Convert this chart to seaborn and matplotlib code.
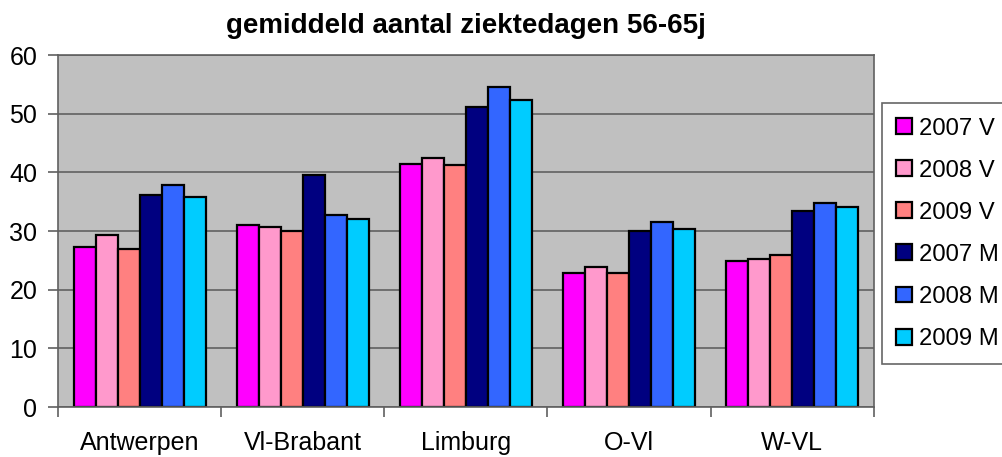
import pandas as pd
import matplotlib
matplotlib.use("Agg")
import matplotlib.pyplot as plt
import seaborn as sns
from matplotlib.ticker import FixedLocator

# ------------------------------------------
# Data
# ------------------------------------------
regios = ["Antwerpen", "Vl-Brabant", "Limburg", "O-Vl", "W-VL"]
reeksen = ["2007 V", "2008 V", "2009 V", "2007 M", "2008 M", "2009 M"]

v2007 = [27.3, 31.0, 41.5, 22.8, 24.9]
v2008 = [29.3, 30.6, 42.5, 23.8, 25.2]
v2009 = [26.9, 30.0, 41.2, 22.8, 25.9]
m2007 = [36.1, 39.5, 51.1, 30.0, 33.4]
m2008 = [37.8, 32.7, 54.5, 31.6, 34.7]
m2009 = [35.8, 32.0, 52.4, 30.3, 34.1]

kleuren = ["#FF00FF", "#FF99CC", "#FF8080", "#000080", "#3366FF", "#00CCFF"]

rows = []
for naam, waarden in zip(reeksen, [v2007, v2008, v2009, m2007, m2008, m2009]):
    for regio, w in zip(regios, waarden):
        rows.append({"regio": regio, "reeks": naam, "dagen": w})
df = pd.DataFrame(rows)

# ------------------------------------------
# Plot
# ------------------------------------------
sns.set_style("white")
plt.rcParams["font.family"] = ["Liberation Sans", "DejaVu Sans"]
plt.rcParams["text.color"] = "black"
plt.rcParams["xtick.color"] = "black"
plt.rcParams["ytick.color"] = "black"

fig = plt.figure(figsize=(10.02, 4.57), dpi=100)
ax = fig.add_axes([0.058, 0.1094, 0.814, 0.7702])
ax.set_facecolor("#C0C0C0")

sns.barplot(data=df, x="regio", y="dagen", hue="reeks", order=regios,
            hue_order=reeksen, palette=kleuren, saturation=1,
            edgecolor="black", linewidth=1.6, width=0.81, gap=0, ax=ax,
            errorbar=None)

ax.set_ylim(0, 60)
ax.set_xlim(-0.5, 4.5)
ax.set_yticks(range(0, 61, 10))
ax.yaxis.grid(True, color="#606060", linewidth=1.2)
ax.set_axisbelow(True)

# tick marks between the groups, labels in the middle
ax.xaxis.set_minor_locator(FixedLocator([-0.5, 0.5, 1.5, 2.5, 3.5, 4.5]))
ax.tick_params(axis="x", which="major", length=0, pad=17, labelsize=18)
ax.tick_params(axis="x", which="minor", length=7, width=1.2, color="#606060",
               bottom=True, direction="out")
ax.tick_params(axis="y", length=7, width=1.2, color="#606060", left=True,
               direction="out", pad=8, labelsize=18, labelcolor="black")

for side in ["left", "bottom", "right", "top"]:
    ax.spines[side].set_visible(True)
    ax.spines[side].set_color("#606060")
    ax.spines[side].set_linewidth(1.2)

ax.set_xlabel("")
ax.set_ylabel("")
ax.set_title("gemiddeld aantal ziektedagen 56-65j", fontsize=20,
             fontweight="bold", pad=16, color="black")

# legend outside the plot area, on the right
ax.legend_.remove()
handles, labels = ax.get_legend_handles_labels()
leg = fig.legend(handles, labels, loc="upper left",
                 bbox_to_anchor=(0.880, 0.774), bbox_transform=fig.transFigure,
                 fontsize=17.2, frameon=True, fancybox=False, borderaxespad=0,
                 handlelength=0.65, handleheight=0.65, handletextpad=0.3,
                 labelspacing=0.84, borderpad=0.6)
leg.get_frame().set_edgecolor("#404040")
leg.get_frame().set_linewidth(1.2)
for h in leg.legend_handles:
    h.set_edgecolor("black")
    h.set_linewidth(1.6)

plt.savefig("out.png", dpi=100)
